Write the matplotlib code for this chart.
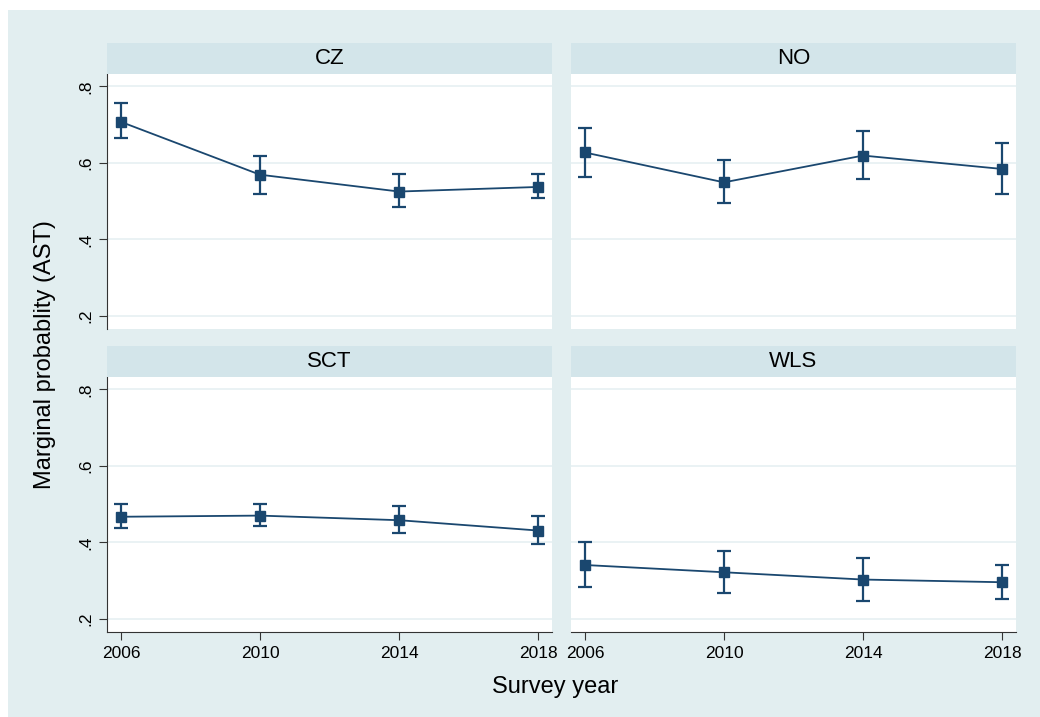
import matplotlib.pyplot as plt
from matplotlib.patches import Rectangle

plt.rcParams['font.family'] = ['Liberation Sans', 'DejaVu Sans']

years = [2006, 2010, 2014, 2018]
panels = ['CZ', 'NO', 'SCT', 'WLS']

# marginal probabilities with 95% CI per country
cz_mean = [0.707, 0.569, 0.525, 0.537]
cz_low = [0.664, 0.519, 0.484, 0.507]
cz_high = [0.755, 0.619, 0.571, 0.571]

no_mean = [0.627, 0.549, 0.619, 0.584]
no_low = [0.563, 0.494, 0.558, 0.518]
no_high = [0.692, 0.607, 0.684, 0.653]

sct_mean = [0.467, 0.470, 0.458, 0.431]
sct_low = [0.437, 0.442, 0.424, 0.396]
sct_high = [0.500, 0.500, 0.496, 0.470]

wls_mean = [0.341, 0.322, 0.303, 0.296]
wls_low = [0.283, 0.269, 0.247, 0.253]
wls_high = [0.402, 0.377, 0.359, 0.341]

yticks = [0.2, 0.4, 0.6, 0.8]
ytick_labels = ['.2', '.4', '.6', '.8']

series = {
    'CZ': (cz_mean, cz_low, cz_high),
    'NO': (no_mean, no_low, no_high),
    'SCT': (sct_mean, sct_low, sct_high),
    'WLS': (wls_mean, wls_low, wls_high),
}

W, H = 1040, 717
bg = '#e2eef0'
strip = '#d3e5ea'
navy = '#1a476f'

fig = plt.figure(figsize=(W / 100, H / 100), dpi=100)
fig.patch.set_facecolor('white')
fig.patches.append(Rectangle((8 / W, 0), 1, 1 - 10 / H, transform=fig.transFigure,
                             facecolor=bg, edgecolor='none', zorder=-10))

# panel boxes in pixels: (left, top)
boxes = {'CZ': (107, 74), 'NO': (571, 74), 'SCT': (107, 377), 'WLS': (571, 377)}
pw, ph, sh = 445, 255, 31

for name in panels:
    left, top = boxes[name]
    ax = fig.add_axes([left / W, (H - top - ph) / H, pw / W, ph / H])
    # title strip
    sax = fig.add_axes([left / W, (H - top) / H, pw / W, sh / H])
    sax.set_facecolor(strip)
    sax.set_xticks([])
    sax.set_yticks([])
    for s in sax.spines.values():
        s.set_visible(False)
    sax.text(0.5, 0.5, name, ha='center', va='center', fontsize=16, color='black')

    mean, low, high = series[name]
    yerr = [[m - l for m, l in zip(mean, low)], [h - m for m, h in zip(mean, high)]]
    ax.errorbar(years, mean, yerr=yerr, color=navy, lw=1.3, marker='s', ms=7,
                elinewidth=1.6, capsize=5, capthick=1.6, zorder=3)

    ax.set_xlim(2005.6, 2018.4)
    ax.set_ylim(0.166, 0.832)
    ax.set_yticks(yticks)
    ax.set_xticks(years)
    ax.grid(axis='y', color='#e6f0f2', lw=1.2)
    ax.set_axisbelow(True)
    for s in ['top', 'right']:
        ax.spines[s].set_visible(False)

    is_left = name in ('CZ', 'SCT')
    is_bottom = name in ('SCT', 'WLS')
    ax.spines['left'].set_visible(is_left)
    ax.spines['bottom'].set_visible(is_bottom)
    ax.spines['left'].set_color('#333333')
    ax.spines['bottom'].set_color('#333333')

    if is_left:
        ax.set_yticklabels(ytick_labels, rotation=90, va='center', fontsize=12.5)
        ax.tick_params(axis='y', length=6, color='#333333', pad=4)
    else:
        ax.tick_params(axis='y', left=False, labelleft=False)
    if is_bottom:
        ax.set_xticklabels([str(y) for y in years], fontsize=12.5)
        ax.tick_params(axis='x', length=6, color='#333333', pad=4)
    else:
        ax.tick_params(axis='x', bottom=False, labelbottom=False)

fig.text(555 / W, 1 - 687 / H, 'Survey year', ha='center', va='center', fontsize=17)
fig.text(45 / W, 1 - 355 / H, 'Marginal probablity (AST)', ha='center', va='center',
         rotation=90, fontsize=17)

fig.savefig('out.png', dpi=100, facecolor=fig.get_facecolor())
